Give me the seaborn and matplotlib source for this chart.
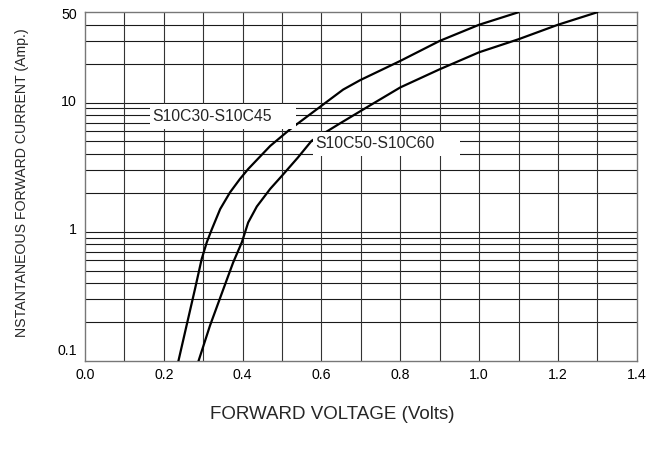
import numpy as np
import pandas as pd
import matplotlib
matplotlib.use("Agg")
import matplotlib.pyplot as plt
import matplotlib.transforms as mtransforms
from matplotlib.patches import Rectangle
from matplotlib.ticker import FixedLocator, NullFormatter
import seaborn as sns

# S10C30-S10C45 curve (volts, amps)
v_low_series = [0.237, 0.258, 0.279, 0.296, 0.309, 0.322, 0.343, 0.368, 0.393,
                0.414, 0.47, 0.52, 0.622, 0.655, 0.698, 0.80, 0.90, 1.0, 1.1]
i_low_series = [0.1, 0.19, 0.36, 0.615, 0.83, 1.05, 1.5, 2.02, 2.56,
                3.06, 4.62, 6.2, 10.6, 12.6, 14.9, 21, 30, 40, 50]

# S10C50-S10C60 curve
v_high_series = [0.288, 0.317, 0.351, 0.376, 0.398, 0.414, 0.436, 0.47, 0.50,
                 0.54, 0.575, 0.647, 0.723, 0.80, 0.90, 1.0, 1.1, 1.2, 1.3]
i_high_series = [0.1, 0.1875, 0.36, 0.58, 0.83, 1.18, 1.57, 2.15, 2.72,
                 3.75, 5.06, 6.9, 9.5, 13.1, 18.1, 24.5, 30.9, 40, 50]

series_names = ["S10C30-S10C45", "S10C50-S10C60"]

x_ticks = [0.0, 0.2, 0.4, 0.6, 0.8, 1.0, 1.2, 1.4]
x_tick_labels = ["0.0", "0.2", "0.4", "0.6", "0.8", "1.0", "1.2", "1.4"]
y_ticks = [0.1, 1, 10, 50]
y_tick_labels = ["0.1", "1", "10", "50"]
y_grid = [0.2, 0.3, 0.4, 0.5, 0.6, 0.7, 0.8, 0.9, 1,
          2, 3, 4, 5, 6, 7, 8, 9, 10, 20, 30, 40]
x_grid = [0.1, 0.2, 0.3, 0.4, 0.5, 0.6, 0.7, 0.8, 0.9, 1.0, 1.1, 1.2, 1.3]

df = pd.concat([
    pd.DataFrame({"v": v_low_series, "i": i_low_series, "part": series_names[0]}),
    pd.DataFrame({"v": v_high_series, "i": i_high_series, "part": series_names[1]}),
])

sns.set_theme(style="white")
plt.rcParams["font.family"] = ["Liberation Sans", "DejaVu Sans"]

fig = plt.figure(figsize=(6.64, 4.56), dpi=100)
ax = fig.add_axes([0.128, 0.206, 0.831, 0.765])

for name in series_names:
    sub = df[df["part"] == name]
    sns.lineplot(data=sub, x="v", y="i", sort=False, estimator=None,
                 color="black", linewidth=1.6, ax=ax, zorder=3)

ax.set_yscale("log")
ax.set_xlim(0, 1.4)
ax.set_ylim(0.1, 50)

# grid
for yv in y_grid:
    ax.axhline(yv, color="#1a1a1a", linewidth=0.8, zorder=1)
for xv in x_grid:
    ax.axvline(xv, color="#333333", linewidth=0.8, zorder=1)

ax.set_xticks(x_ticks)
ax.set_xticklabels(x_tick_labels)
ax.yaxis.set_major_locator(FixedLocator(y_ticks))
ax.yaxis.set_minor_locator(FixedLocator([]))
ax.yaxis.set_minor_formatter(NullFormatter())
ax.set_yticklabels(y_tick_labels)
ax.tick_params(axis="both", length=0, labelsize=10.2, colors="black")
ax.tick_params(axis="x", pad=4)
ax.tick_params(axis="y", pad=6)

# nudge the y labels up a little, the 0.1 one more so it clears 0.0
for lab, up in zip(ax.get_yticklabels(), [13, 4, 3, 0]):
    lab.set_transform(lab.get_transform() +
                      mtransforms.ScaledTranslation(0, up / 100, fig.dpi_scale_trans))

for sp in ax.spines.values():
    sp.set_color("#777777")
    sp.set_linewidth(1.0)

ax.set_xlabel("")
ax.set_ylabel("")

# labels on white boxes
ax.add_patch(Rectangle((0.165, 6.3), 0.371, 9.7 - 6.3, facecolor="white",
                       edgecolor="none", zorder=4))
ax.text(0.17, 8.0, series_names[0], fontsize=11.3, ha="left", va="center", zorder=5)
ax.add_patch(Rectangle((0.579, 3.85), 0.373, 5.95 - 3.85, facecolor="white",
                       edgecolor="none", zorder=4))
ax.text(0.584, 4.94, series_names[1], fontsize=11.3, ha="left", va="center", zorder=5)

fig.text(0.5, 0.09, "FORWARD VOLTAGE (Volts)", fontsize=13.5, ha="center", va="center")
fig.text(0.033, 0.6, "NSTANTANEOUS FORWARD CURRENT (Amp.)", fontsize=10.2,
         rotation=90, ha="center", va="center")

fig.savefig("out.png", dpi=100)
plt.close(fig)
